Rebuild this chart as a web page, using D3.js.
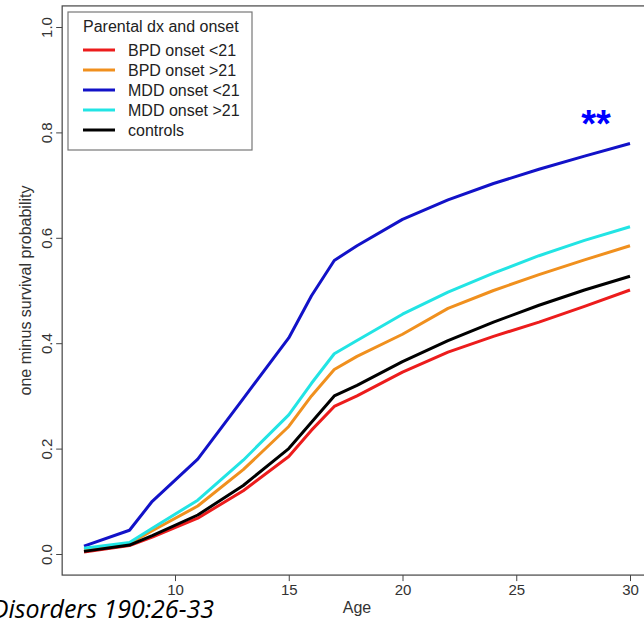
<!DOCTYPE html>
<html>
<head>
  <meta charset="utf-8">
  <title>Parental dx and onset</title>
  <script src="https://d3js.org/d3.v7.min.js"></script>
  <style>
    body { margin: 0; background: #fff; }
    svg { display: block; }
  </style>
</head>
<body>
<script>
// ages where the curves are sampled
var ages = [6, 8, 9, 11, 13, 15, 16, 17, 18, 20, 22, 24, 26, 28, 30];

// one minus survival probability
var bpdEarly = [0.004, 0.016, 0.032, 0.068, 0.12, 0.185, 0.235, 0.28, 0.30, 0.345, 0.383, 0.413, 0.44, 0.47, 0.501];
var bpdLate  = [0.008, 0.020, 0.044, 0.091, 0.16, 0.242, 0.30, 0.35, 0.375, 0.417, 0.466, 0.50, 0.53, 0.558, 0.585];
var mddEarly = [0.015, 0.045, 0.10, 0.18, 0.295, 0.41, 0.49, 0.557, 0.585, 0.635, 0.672, 0.703, 0.73, 0.755, 0.779];
var mddLate  = [0.011, 0.022, 0.049, 0.102, 0.178, 0.264, 0.324, 0.38, 0.405, 0.455, 0.497, 0.533, 0.566, 0.595, 0.621];
var controls = [0.005, 0.017, 0.035, 0.074, 0.13, 0.20, 0.25, 0.30, 0.32, 0.365, 0.405, 0.44, 0.472, 0.501, 0.527];

var seriesNames = ["BPD onset <21", "BPD onset >21", "MDD onset <21", "MDD onset >21", "controls"];
var seriesColors = ["#ec1c1c", "#f0901e", "#1212c8", "#22e4e4", "#000000"];
var seriesValues = [bpdEarly, bpdLate, mddEarly, mddLate, controls];

var xTicks = [10, 15, 20, 25, 30];
var yTicks = [0, 0.2, 0.4, 0.6, 0.8, 1.0];

var width = 644, height = 618;
var svg = d3.select("body").append("svg").attr("width", width).attr("height", height);

// R style: 4% padding around data range
var xScale = d3.scaleLinear().domain([6, 30]).range([84, 630]);
var yScale = d3.scaleLinear().domain([0, 1]).range([554, 27]);
var x0 = xScale(5.04), x1 = xScale(30.96);
var y0 = yScale(-0.04), y1 = yScale(1.04);

var axisCol = "#444";
var font = "'Liberation Sans', Arial, sans-serif";

// lines
var line = d3.line()
  .x(function(d) { return xScale(d[0]); })
  .y(function(d) { return yScale(d[1]); });

svg.append("g")
  .selectAll("path")
  .data(seriesValues)
  .enter()
  .append("path")
  .attr("d", function(vals) { return line(vals.map(function(v, i) { return [ages[i], v]; })); })
  .attr("fill", "none")
  .attr("stroke", function(d, i) { return seriesColors[i]; })
  .attr("stroke-width", 3)
  .attr("stroke-linejoin", "round");

// frame
svg.append("rect")
  .attr("x", x0).attr("y", y1)
  .attr("width", x1 - x0).attr("height", y0 - y1)
  .attr("fill", "none").attr("stroke", axisCol).attr("stroke-width", 1.2);

// x axis
var gx = svg.append("g")
  .attr("transform", "translate(0," + y0 + ")")
  .call(d3.axisBottom(xScale).tickValues(xTicks).tickSize(6).tickSizeOuter(0).tickPadding(3));
gx.select(".domain").remove();
gx.selectAll("line").attr("stroke", axisCol);
gx.selectAll("text").attr("font-family", font).attr("font-size", 15).attr("fill", "#333");

// y axis, labels parallel to the axis
var gy = svg.append("g")
  .attr("transform", "translate(" + x0 + ",0)")
  .call(d3.axisLeft(yScale).tickValues(yTicks).tickSize(6).tickFormat(d3.format(".1f")));
gy.select(".domain").remove();
gy.selectAll("line").attr("stroke", axisCol);
gy.selectAll("text")
  .attr("font-family", font).attr("font-size", 15).attr("fill", "#333")
  .attr("x", null).attr("dy", null)
  .attr("text-anchor", "middle")
  .attr("transform", "translate(-10,0) rotate(-90)");

// axis titles
svg.append("text")
  .attr("x", (x0 + x1) / 2).attr("y", 613)
  .attr("text-anchor", "middle")
  .attr("font-family", font).attr("font-size", 16).attr("fill", "#333")
  .text("Age");

svg.append("text")
  .attr("transform", "translate(31," + ((y0 + y1) / 2) + ") rotate(-90)")
  .attr("text-anchor", "middle")
  .attr("font-family", font).attr("font-size", 16).attr("fill", "#333")
  .text("one minus survival probability");

// legend
var legend = svg.append("g");
legend.append("rect")
  .attr("x", 68).attr("y", 12).attr("width", 184).attr("height", 138)
  .attr("fill", "#fff").attr("stroke", "#777").attr("stroke-width", 1.2);
legend.append("text")
  .attr("x", 83).attr("y", 32)
  .attr("font-family", font).attr("font-size", 16).attr("fill", "#222")
  .text("Parental dx and onset");
var items = legend.selectAll("g.item")
  .data(seriesNames)
  .enter()
  .append("g")
  .attr("transform", function(d, i) { return "translate(0," + (50 + i * 20) + ")"; });
items.append("line")
  .attr("x1", 83).attr("x2", 115)
  .attr("stroke", function(d, i) { return seriesColors[i]; })
  .attr("stroke-width", 3);
items.append("text")
  .attr("x", 128).attr("y", 6)
  .attr("font-family", font).attr("font-size", 16).attr("fill", "#222")
  .text(function(d) { return d; });

// significance mark
svg.append("text")
  .attr("x", 596).attr("y", 137)
  .attr("text-anchor", "middle")
  .attr("font-family", font).attr("font-size", 38).attr("font-weight", "bold")
  .attr("fill", "#0000ff")
  .text("**");

// citation fragment, cut at the left edge as in the source slide
svg.append("text")
  .attr("x", 214).attr("y", 618)
  .attr("text-anchor", "end")
  .attr("font-family", "'Open Sans', sans-serif").attr("font-style", "italic")
  .attr("font-size", 25).attr("fill", "#000")
  .text("Disorders 190:26-33");
</script>
</body>
</html>
